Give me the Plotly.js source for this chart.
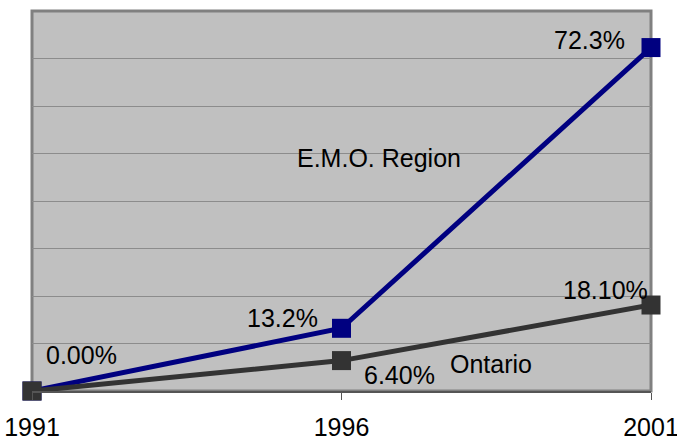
<!DOCTYPE html>
<html><head><meta charset="utf-8">
<script src="https://cdn.plot.ly/plotly-3.0.1.min.js"></script>
<style>html,body{margin:0;padding:0;background:#fff}#c{width:677px;height:437px}</style>
</head><body><div id="c"></div>
<script>
const years = [1991, 1996, 2001];
const emo = [0, 13.2, 72.3];
const ontario = [0, 6.4, 18.1];
const emoLabels = ["0.00%", "13.2%", "72.3%"];
const ontLabels = ["", "6.40%", "18.10%"];
const tickLabels = ["1991", "1996", "2001"];

const F = "Liberation Sans, Arial, sans-serif";
const traces = [
  {x: years, y: emo, mode: "lines+markers", line: {color: "#000080", width: 5},
   marker: {symbol: "square", size: 19, color: "#000080"}, cliponaxis: false, hoverinfo: "skip"},
  {x: years, y: ontario, mode: "lines+markers", line: {color: "#333333", width: 5},
   marker: {symbol: "square", size: 19, color: "#333333"}, cliponaxis: false, hoverinfo: "skip"}
];
const ann = [
  {x: years[0], y: emo[0], text: emoLabels[0], xanchor: "left", xshift: 12, yshift: 36},
  {x: years[1], y: emo[1], text: emoLabels[1], xanchor: "right", xshift: -22, yshift: 10},
  {x: years[2], y: emo[2], text: emoLabels[2], xanchor: "right", xshift: -24, yshift: 8},
  {x: years[1], y: ontario[1], text: ontLabels[1], xanchor: "left", xshift: 20, yshift: -14},
  {x: years[2], y: ontario[2], text: ontLabels[2], xanchor: "right", xshift: -1, yshift: 15},
  {xref: "paper", yref: "paper", x: 0.561, y: 0.613, text: "E.M.O. Region", xanchor: "center"},
  {xref: "paper", yref: "paper", x: 0.672, y: 0.071, text: "Ontario", xanchor: "left"}
].map(a => Object.assign({showarrow: false, yanchor: "middle", font: {family: F, size: 25, color: "#000"}}, a));

const layout = {
  width: 677, height: 437,
  margin: {l: 32, r: 26, t: 11, b: 46},
  paper_bgcolor: "#fff", plot_bgcolor: "#c0c0c0",
  showlegend: false,
  xaxis: {range: [1991, 2001], tickvals: years, ticktext: tickLabels, showgrid: false, zeroline: false,
    showline: true, linecolor: "#555", linewidth: 2, ticks: "outside", ticklen: 7, tickcolor: "#555",
    tickwidth: 1, ticklabelstandoff: 6, ticklabeloverflow: "allow",
    tickfont: {family: F, size: 25, color: "#000"}},
  yaxis: {range: [0, 80], dtick: 10, showticklabels: false, showgrid: true, gridcolor: "#8c8c8c",
    gridwidth: 1, zeroline: false, showline: false, ticks: ""},
  shapes: [{type: "rect", xref: "paper", yref: "paper", x0: 0, x1: 1, y0: 0, y1: 1,
    line: {color: "#808080", width: 3}, layer: "below"}],
  annotations: ann
};
Plotly.newPlot("c", traces, layout, {staticPlot: true});
</script></body></html>
